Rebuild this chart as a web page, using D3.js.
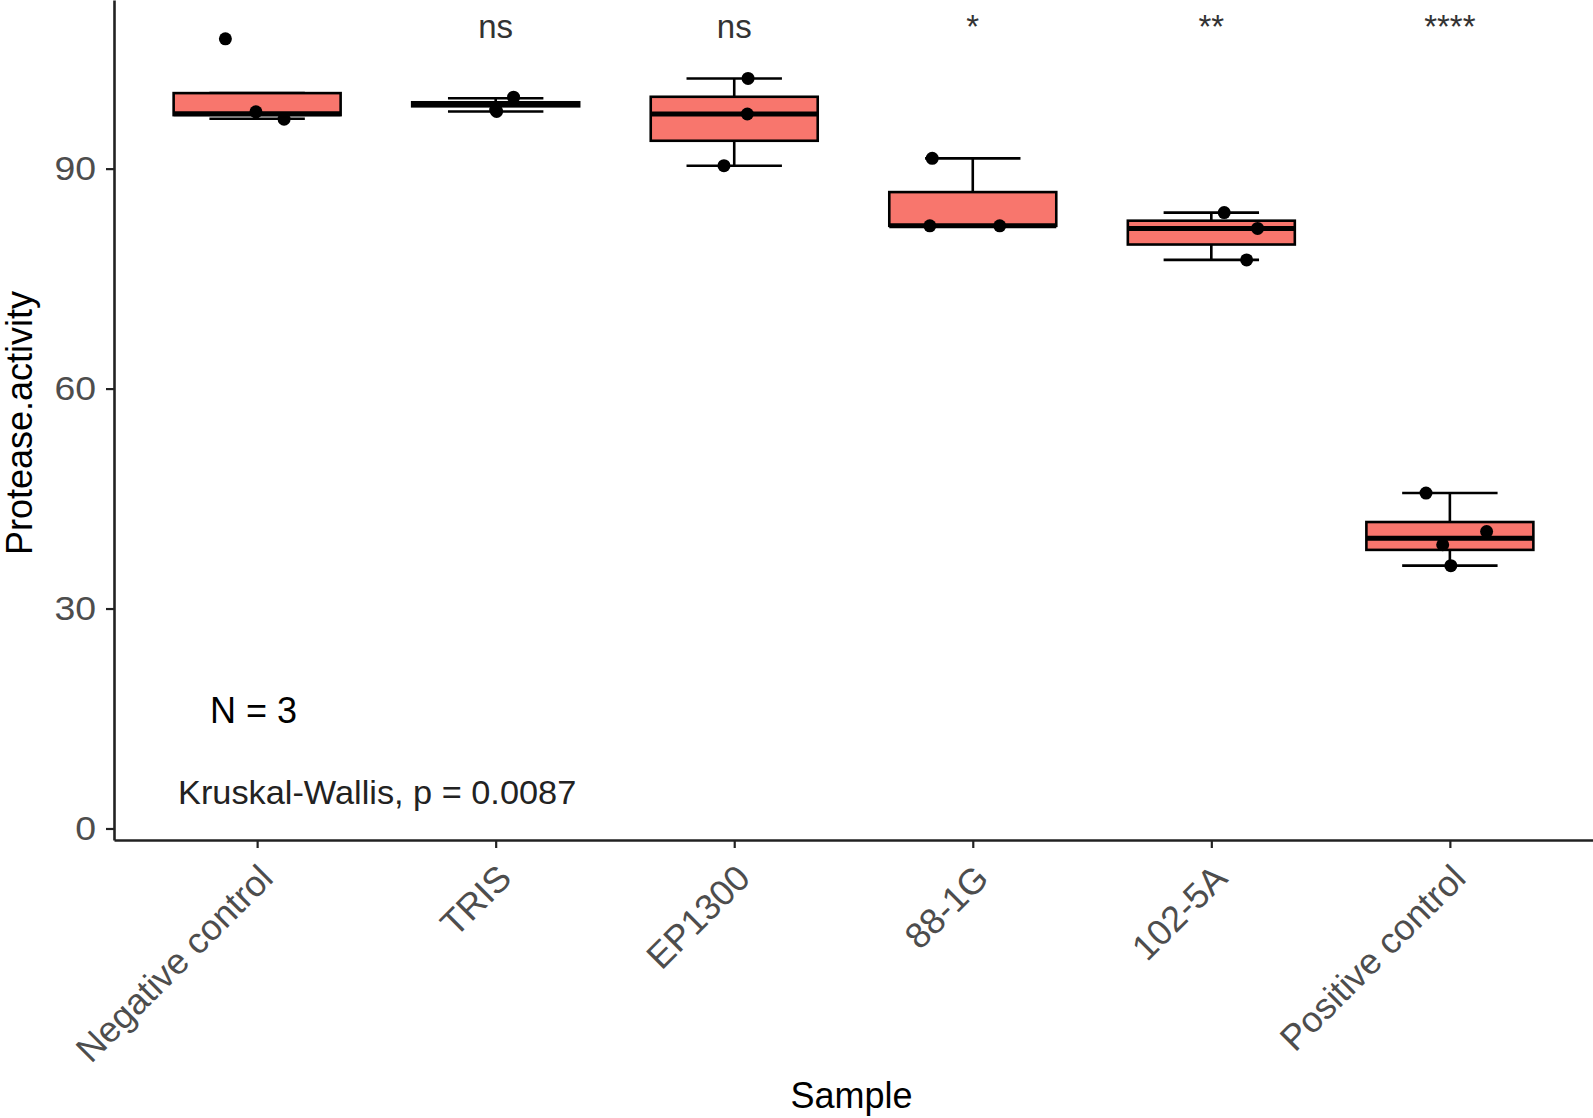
<!DOCTYPE html>
<html>
<head>
<meta charset="utf-8">
<script src="https://cdn.jsdelivr.net/npm/d3@7"></script>
<style>
  html, body { margin: 0; padding: 0; background: #ffffff; }
  svg { display: block; font-family: "Liberation Sans", Arial, Helvetica, sans-serif; }
</style>
</head>
<body>
<script>
// ---- data ----
const categories = ["Negative control", "TRIS", "EP1300", "88-1G", "102-5A", "Positive control"];
const lowerWhisker = [96.8, 97.8, 90.4, 82.2, 77.55, 35.85];
const q1Values     = [97.3, 98.5, 93.8, 82.2, 79.65, 38.0];
const medianValues = [97.5, 98.75, 97.45, 82.2, 81.85, 39.6];
const q3Values     = [100.3, 99.05, 99.8, 86.8, 82.9, 41.8];
const upperWhisker = [100.3, 99.6, 102.3, 91.4, 84.0, 45.75];

// individual (jittered) observations
const pointSample = ["Negative control", "Negative control", "Negative control",
                     "TRIS", "TRIS", "TRIS",
                     "EP1300", "EP1300", "EP1300",
                     "88-1G", "88-1G", "88-1G",
                     "102-5A", "102-5A", "102-5A",
                     "Positive control", "Positive control", "Positive control", "Positive control"];
const pointValue  = [107.7, 97.75, 96.75,
                     97.8, 98.0, 99.75,
                     102.3, 97.45, 90.4,
                     91.4, 82.2, 82.2,
                     84.0, 81.85, 77.55,
                     45.75, 40.5, 38.7, 35.85];
const pointJitter = [-0.133, -0.005, 0.113,
                     0.004, 0.0, 0.075,
                     0.058, 0.055, -0.043,
                     -0.170, -0.180, 0.113,
                     0.054, 0.194, 0.148,
                     -0.10, 0.154, -0.03, 0.004];

const sigLabels = ["", "ns", "ns", "*", "**", "****"];
const yTickValues = [0, 30, 60, 90];
const kwLabel = "Kruskal-Wallis, p = 0.0087";
const nLabel = "N = 3";
const xTitle = "Sample";
const yTitle = "Protease.activity";

// ---- layout ----
const W = 1593, H = 1118;
const plotLeft = 114, plotRight = 1593, plotTop = 0, plotBottom = 840;
const fill = "#F8766D";

const svg = d3.select("body").append("svg").attr("width", W).attr("height", H);

const x = d3.scalePoint().domain(categories).range([plotLeft, plotRight]).padding(0.6);
const y = d3.scaleLinear().domain([-1.57, 113]).range([plotBottom, plotTop]);
const step = x.step();
const boxW = 0.7 * step;
const capW = 0.4 * step;

const boxes = categories.map((c, i) => ({
  cat: c, lo: lowerWhisker[i], q1: q1Values[i], med: medianValues[i], q3: q3Values[i], hi: upperWhisker[i]
}));

const g = svg.append("g");

// error-bar whiskers (drawn first, like stat_boxplot(geom = "errorbar"))
const wb = g.selectAll("g.whisker").data(boxes).enter().append("g").attr("class", "whisker");
wb.append("line")
  .attr("x1", d => x(d.cat)).attr("x2", d => x(d.cat))
  .attr("y1", d => y(d.lo)).attr("y2", d => y(d.hi))
  .attr("stroke", "#000").attr("stroke-width", 2.6);
wb.append("line")
  .attr("x1", d => x(d.cat) - capW / 2).attr("x2", d => x(d.cat) + capW / 2)
  .attr("y1", d => y(d.hi)).attr("y2", d => y(d.hi))
  .attr("stroke", "#000").attr("stroke-width", 2.6);
wb.append("line")
  .attr("x1", d => x(d.cat) - capW / 2).attr("x2", d => x(d.cat) + capW / 2)
  .attr("y1", d => y(d.lo)).attr("y2", d => y(d.lo))
  .attr("stroke", "#000").attr("stroke-width", 2.6);

// boxes
const bx = g.selectAll("g.box").data(boxes).enter().append("g").attr("class", "box");
bx.append("rect")
  .attr("x", d => x(d.cat) - boxW / 2)
  .attr("width", boxW)
  .attr("y", d => y(d.q3))
  .attr("height", d => Math.max(0.5, y(d.q1) - y(d.q3)))
  .attr("fill", fill).attr("stroke", "#000").attr("stroke-width", 2.6);
bx.append("line")
  .attr("x1", d => x(d.cat) - boxW / 2).attr("x2", d => x(d.cat) + boxW / 2)
  .attr("y1", d => y(d.med)).attr("y2", d => y(d.med))
  .attr("stroke", "#000").attr("stroke-width", 5);

// jittered points
const pts = pointValue.map((v, i) => ({ cat: pointSample[i], v: v, j: pointJitter[i] }));
g.selectAll("circle.pt").data(pts).enter().append("circle")
  .attr("class", "pt")
  .attr("cx", d => x(d.cat) + d.j * step)
  .attr("cy", d => y(d.v))
  .attr("r", 6.5)
  .attr("fill", "#000");

// significance labels
g.selectAll("text.sig").data(categories).enter().append("text")
  .attr("class", "sig")
  .attr("x", d => x(d))
  .attr("y", y(107.8))
  .attr("text-anchor", "middle")
  .attr("font-size", 33)
  .attr("fill", "#333")
  .text((d, i) => sigLabels[i]);

// ---- axes ----
const yAxis = svg.append("g")
  .attr("transform", `translate(${plotLeft},0)`)
  .call(d3.axisLeft(y).tickValues(yTickValues).tickSize(8).tickSizeOuter(0).tickPadding(10));
yAxis.select(".domain").attr("stroke", "#222").attr("stroke-width", 2.6);
yAxis.selectAll(".tick line").attr("stroke", "#222").attr("stroke-width", 2.2);
yAxis.selectAll(".tick text")
  .attr("x", 0)
  .attr("transform", "translate(-18,0) scale(1.1,1)")
  .attr("font-size", 34).attr("fill", "#4D4D4D")
  .attr("font-family", "'Liberation Sans', Arial, sans-serif");

const xAxis = svg.append("g")
  .attr("transform", `translate(0,${plotBottom})`)
  .call(d3.axisBottom(x).tickSize(8).tickSizeOuter(0));
xAxis.select(".domain").attr("stroke", "#222").attr("stroke-width", 2.6);
xAxis.selectAll(".tick line").attr("stroke", "#222").attr("stroke-width", 2.2);
xAxis.selectAll(".tick text")
  .attr("x", 0).attr("y", 0)
  .attr("dy", "0.72em")
  .attr("text-anchor", "end")
  .attr("transform", "translate(-1,22) rotate(-45)")
  .attr("font-size", 36).attr("fill", "#4D4D4D")
  .attr("font-family", "'Liberation Sans', Arial, sans-serif");

// axis titles
svg.append("text")
  .attr("x", (plotLeft + plotRight) / 2 - 2)
  .attr("y", 1108)
  .attr("text-anchor", "middle")
  .attr("font-size", 36)
  .attr("fill", "#000")
  .text(xTitle);

svg.append("text")
  .attr("transform", `translate(32,${(plotTop + plotBottom) / 2 + 3}) rotate(-90)`)
  .attr("text-anchor", "middle")
  .attr("font-size", 36)
  .attr("fill", "#000")
  .text(yTitle);

// annotations
svg.append("text")
  .attr("transform", "translate(178,804) scale(1.04,1)")
  .attr("font-size", 33)
  .attr("fill", "#222")
  .text(kwLabel);

svg.append("text")
  .attr("x", 210).attr("y", 723)
  .attr("font-size", 36)
  .attr("fill", "#000")
  .text(nLabel);
</script>
</body>
</html>
